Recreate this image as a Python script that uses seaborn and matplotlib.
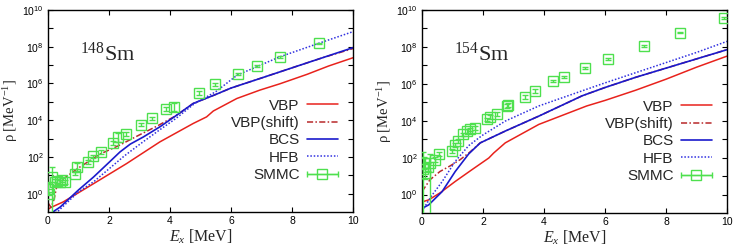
import numpy as np
import matplotlib
matplotlib.use('Agg')
import matplotlib.pyplot as plt
import seaborn as sns
from matplotlib.ticker import FixedLocator, FuncFormatter
from matplotlib.legend_handler import HandlerErrorbar

sns.set_style('white')
plt.rcParams['font.family'] = ['Liberation Sans', 'DejaVu Sans']
plt.rcParams['mathtext.fontset'] = 'custom'
plt.rcParams['mathtext.rm'] = 'Liberation Serif'
plt.rcParams['mathtext.it'] = 'Liberation Serif:italic'

# ---- 148Sm (values are log10 of rho) ----
vbp148_e = [0.0, 0.1, 0.5, 1.5, 2.58, 3.67, 4.76, 5.2, 5.42, 6.19, 6.95, 7.6, 8.5, 9.2, 10.0]
vbp148_log = [-0.85, -0.75, -0.45, 0.55, 1.64, 2.82, 3.82, 4.18, 4.5, 5.18, 5.64, 5.98, 6.5, 6.95, 7.4]
shift148_e = [0.0, 0.1, 0.2, 0.3, 0.5, 1.0, 1.7, 2.3, 3.0, 3.6, 4.2, 4.76, 5.5, 6.0, 6.95, 8.0, 9.0, 10.0]
shift148_log = [-0.5, -0.75, -0.3, 0.5, 0.8, 1.4, 2.15, 2.6, 3.2, 3.7, 4.25, 4.91, 5.4, 5.75, 6.27, 6.85, 7.4, 7.9]
bcs148_e = [0.05, 0.2, 0.4, 1.0, 1.49, 2.0, 2.36, 2.7, 3.13, 3.67, 4.2, 4.76, 5.5, 6.0, 6.95, 8.0, 9.0, 10.0]
bcs148_log = [-1.2, -0.95, -0.73, 0.2, 0.9, 1.7, 2.27, 2.7, 3.09, 3.64, 4.25, 4.91, 5.4, 5.75, 6.27, 6.85, 7.4, 7.95]
hfb148_e = [0.0, 0.0, 0.3, 1.0, 1.5, 2.0, 2.5, 3.1, 3.6, 4.2, 4.8, 5.5, 6.2, 6.9, 7.6, 8.9, 10.0]
hfb148_log = [6.8, -1.2, -1.0, 0.1, 0.65, 1.35, 2.05, 2.8, 3.4, 4.1, 4.9, 5.55, 6.45, 6.95, 7.45, 8.2, 8.82]
smmc148_e = [0.0, 0.03, 0.13, 0.23, 0.3, 0.39, 0.45, 0.56, 0.89, 0.94, 1.32, 1.49, 1.74,
             2.12, 2.31, 2.55, 3.04, 3.4, 3.87, 4.13, 4.95, 5.48, 6.24, 6.86, 7.61, 8.89]
smmc148_log = [0.27, 0.0, 0.9, 0.63, 0.7, 0.63, 0.75, 0.63, 1.09, 1.45, 1.72, 2.03, 2.27,
               2.76, 3.07, 3.24, 3.76, 4.1, 4.6, 4.72, 5.49, 5.95, 6.51, 6.96, 7.42, 8.18]
smmc148_err_lo = [0.3, 0.1, 2.0, 0.15, 0.1, 0.1, 0.1, 0.1, 0.1, 0.2, 0.1, 0.1, 0.1,
                  0.1, 0.25, 0.1, 0.1, 0.1, 0.1, 0.2, 0.1, 0.1, 0.05, 0.05, 0.05, 0.05]
smmc148_err_hi = [0.3, 0.1, 0.55, 0.15, 0.1, 0.1, 0.1, 0.1, 0.1, 0.2, 0.1, 0.1, 0.1,
                  0.1, 0.25, 0.1, 0.1, 0.1, 0.1, 0.2, 0.1, 0.1, 0.05, 0.05, 0.05, 0.05]

# ---- 154Sm ----
vbp154_e = [0.0, 0.22, 0.6, 1.09, 1.64, 2.19, 2.35, 2.73, 3.83, 5.4, 6.0, 7.0, 8.0, 9.0, 10.0]
vbp154_log = [-0.4, -0.29, 0.1, 0.71, 1.35, 1.98, 2.25, 2.8, 3.8, 4.8, 5.1, 5.65, 6.25, 6.9, 7.5]
shift154_e = [0.0, 0.26, 0.59, 0.92, 1.25, 1.57, 1.91, 2.73, 3.83, 5.25, 6.0, 7.0, 8.0, 9.0, 10.0]
shift154_log = [0.16, 0.8, 1.25, 1.55, 1.89, 2.3, 2.8, 3.44, 4.25, 5.35, 5.8, 6.35, 6.85, 7.35, 7.85]
bcs154_e = [0.0, 0.22, 0.66, 1.09, 1.53, 1.91, 2.73, 3.83, 5.25, 6.0, 7.0, 8.0, 9.0, 10.0]
bcs154_log = [-0.75, -0.56, 0.16, 1.25, 2.2, 2.8, 3.44, 4.25, 5.35, 5.8, 6.35, 6.85, 7.35, 7.85]
hfb154_e = [0.0, 0.3, 0.66, 1.09, 1.53, 1.97, 2.73, 3.83, 5.25, 6.0, 7.0, 8.0, 9.0, 10.0]
hfb154_log = [-0.9, -0.1, 0.7, 1.8, 2.65, 3.2, 3.98, 4.8, 5.62, 6.05, 6.6, 7.15, 7.7, 8.3]
smmc154_e = [0.02, 0.07, 0.1, 0.2, 0.26, 0.43, 0.57, 0.97, 1.08, 1.19, 1.36, 1.46, 1.57, 1.74,
             2.12, 2.23, 2.47, 2.78, 2.82, 3.39, 3.72, 4.3, 4.64, 5.36, 6.1, 7.27, 8.47, 9.91]
smmc154_log = [1.4, 1.71, 1.16, 1.5, 1.71, 1.89, 2.2, 2.35, 2.7, 2.89, 3.26, 3.44, 3.53, 3.62,
               4.07, 4.2, 4.35, 4.8, 4.85, 5.27, 5.6, 6.13, 6.36, 6.85, 7.36, 8.05, 8.78, 9.58]
smmc154_err_lo = [2.5, 0.3, 0.3, 0.2, 2.8, 0.15, 0.1, 0.1, 0.1, 0.1, 0.1, 0.1, 0.1, 0.1,
                  0.1, 0.1, 0.1, 0.1, 0.1, 0.1, 0.1, 0.05, 0.05, 0.05, 0.05, 0.05, 0.05, 0.05]
smmc154_err_hi = [0.9, 0.3, 0.3, 0.2, 0.5, 0.15, 0.1, 0.1, 0.1, 0.1, 0.1, 0.1, 0.1, 0.1,
                  0.1, 0.1, 0.1, 0.1, 0.1, 0.1, 0.1, 0.05, 0.05, 0.05, 0.05, 0.05, 0.05, 0.05]

c_vbp = '#e8221c'
c_shift = '#b8282a'
c_bcs = '#1a1acc'
c_hfb = '#3030e0'
c_smmc = '#4ee04e'


def ytick(v, pos):
    p = int(round(np.log10(v)))
    if p % 2 == 0 and p >= 0:
        return r'$\mathdefault{10^{%d}}$' % p
    return ''


def panel(ax, label, vbp, shift, bcs, hfb, smmc):
    ax.set_yscale('log')
    sns.lineplot(x=vbp[0], y=10 ** np.array(vbp[1]), ax=ax, color=c_vbp, lw=1.1,
                 sort=False, estimator=None)
    sns.lineplot(x=shift[0], y=10 ** np.array(shift[1]), ax=ax, color=c_shift, lw=1.1,
                 sort=False, estimator=None, linestyle=(0, (4, 1.5, 1, 1.5)))
    sns.lineplot(x=bcs[0], y=10 ** np.array(bcs[1]), ax=ax, color=c_bcs, lw=1.2,
                 sort=False, estimator=None)
    sns.lineplot(x=hfb[0], y=10 ** np.array(hfb[1]), ax=ax, color=c_hfb, lw=1.1,
                 sort=False, estimator=None, linestyle=(0, (1, 1.2)))
    e, lg, lo, hi = smmc
    y = 10 ** np.array(lg)
    yerr = [y - 10 ** (np.array(lg) - np.array(lo)), 10 ** (np.array(lg) + np.array(hi)) - y]
    ax.errorbar(e, y, yerr=yerr, fmt='s', ms=6.5, mfc='none', mec=c_smmc, mew=1.0,
                ecolor=c_smmc, elinewidth=1.0, capsize=2, zorder=5)

    ax.set_xlim(0, 10)
    ax.set_ylim(1e-1, 1e10)
    ax.xaxis.set_major_locator(FixedLocator([0, 2, 4, 6, 8, 10]))
    ax.yaxis.set_major_locator(FixedLocator(10.0 ** np.arange(0, 11)))
    ax.yaxis.set_minor_locator(FixedLocator([]))
    ax.yaxis.set_major_formatter(FuncFormatter(ytick))
    ax.tick_params(direction='in', length=3.5, width=0.8, labelsize=7.5, colors='black',
                   bottom=True, left=True, top=True, right=True, pad=3)
    for s in ax.spines.values():
        s.set_color('black')
        s.set_linewidth(1.0)

    ax.set_xlabel(r'$E_x$ [MeV]', family='Liberation Serif', fontsize=11.5, labelpad=1)
    ax.set_ylabel(r'ρ [MeV$^{\mathdefault{-1}}$]', family='Liberation Serif', fontsize=10.5,
                  labelpad=2)
    ax.text(0.105, 0.75, label, transform=ax.transAxes, family='Liberation Serif',
            fontsize=16)

    h1 = plt.Line2D([], [], color=c_vbp, lw=1.1)
    h2 = plt.Line2D([], [], color=c_shift, lw=1.1, linestyle=(0, (4, 1.5, 1, 1.5)))
    h3 = plt.Line2D([], [], color=c_bcs, lw=1.2)
    h4 = plt.Line2D([], [], color=c_hfb, lw=1.1, linestyle=(0, (1, 1.2)))
    h5 = ax.errorbar([np.nan], [np.nan], xerr=[1], fmt='-s', ms=6.5, mfc='none', mec=c_smmc,
                     color=c_smmc, lw=1.0, capsize=2)
    ax.legend([h1, h2, h3, h4, h5], ['VBP', 'VBP(shift)', 'BCS', 'HFB', 'SMMC'],
              loc='lower right', bbox_to_anchor=(0.975, 0.11), frameon=False, markerfirst=False,
              fontsize=11, handlelength=2.0, handletextpad=0.5, labelspacing=0.22,
              borderpad=0.0, handler_map={type(h5): HandlerErrorbar(xerr_size=1.0)})


fig = plt.figure(figsize=(7.37, 2.46), dpi=100)
ax1 = fig.add_axes([48 / 737, 1 - 212 / 246, 305 / 737, 202 / 246])
ax2 = fig.add_axes([422 / 737, 1 - 213 / 246, 305 / 737, 203 / 246])

panel(ax1, r'$^{\mathdefault{148}}$Sm', (vbp148_e, vbp148_log), (shift148_e, shift148_log),
      (bcs148_e, bcs148_log), (hfb148_e, hfb148_log),
      (smmc148_e, smmc148_log, smmc148_err_lo, smmc148_err_hi))
panel(ax2, r'$^{\mathdefault{154}}$Sm', (vbp154_e, vbp154_log), (shift154_e, shift154_log),
      (bcs154_e, bcs154_log), (hfb154_e, hfb154_log),
      (smmc154_e, smmc154_log, smmc154_err_lo, smmc154_err_hi))

fig.savefig('out.png', dpi=100)
